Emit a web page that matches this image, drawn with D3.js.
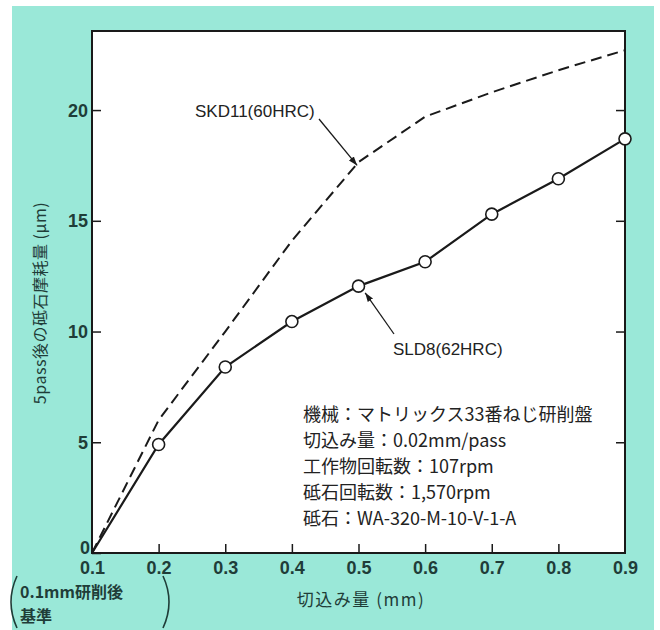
<!DOCTYPE html>
<html>
<head>
<meta charset="utf-8">
<script src="https://cdn.jsdelivr.net/npm/d3@7"></script>
<style>
  body { margin: 0; background: #fff; }
  svg { display: block; }
</style>
</head>
<body>
<div id="chart"></div>
<script>
// data
const depth = [0.1, 0.2, 0.3, 0.4, 0.5, 0.6, 0.7, 0.8, 0.9];
const sld8 = [0, 4.9, 8.4, 10.45, 12.05, 13.15, 15.3, 16.9, 18.7];
const skd11 = [0, 6.0, 10.0, 14.1, 17.65, 19.7, 20.8, 21.8, 22.7];
const yTicks = [0, 5, 10, 15, 20];
const xTicks = [0.1, 0.2, 0.3, 0.4, 0.5, 0.6, 0.7, 0.8, 0.9];
const notes = [
  "機械：マトリックス33番ねじ研削盤",
  "切込み量：0.02mm/pass",
  "工作物回転数：107rpm",
  "砥石回転数：1,570rpm",
  "砥石：WA-320-M-10-V-1-A"
];

const width = 660, height = 630;
const margin = { top: 31, right: 35, bottom: 77, left: 92 };
const jp = "'Noto Sans CJK JP', 'Noto Sans', sans-serif";
const num = "'Liberation Sans', Arial, sans-serif";
const labelColor = "#1f3d38";

const svg = d3.select('#chart').append('svg')
  .attr('width', width)
  .attr('height', height);

// teal backdrop
svg.append('rect')
  .attr('x', 12).attr('y', 6)
  .attr('width', 642).attr('height', 624)
  .attr('fill', '#9ae8d8');

const x = d3.scaleLinear().domain([0.1, 0.9]).range([margin.left, width - margin.right]);
const y = d3.scaleLinear().domain([0, 23.57]).range([height - margin.bottom, margin.top]);

// plot area
svg.append('rect')
  .attr('x', x(0.1)).attr('y', y(23.57))
  .attr('width', x(0.9) - x(0.1)).attr('height', y(0) - y(23.57))
  .attr('fill', '#fff')
  .attr('stroke', '#1a1a1a')
  .attr('stroke-width', 2);

// left axis
const yAxis = svg.append('g')
  .attr('transform', `translate(${x(0.1)},0)`)
  .call(d3.axisLeft(y).tickValues(yTicks).tickSize(-9).tickPadding(4));
yAxis.select('.domain').remove();
yAxis.selectAll('line').attr('stroke', '#1a1a1a').attr('stroke-width', 1.5);
yAxis.selectAll('text')
  .attr('font-family', num).attr('font-size', 18).attr('font-weight', 'bold')
  .attr('fill', labelColor).attr('dy', '0.33em');

// right axis ticks only
const yRight = svg.append('g')
  .attr('transform', `translate(${x(0.9)},0)`)
  .call(d3.axisRight(y).tickValues([5, 10, 15, 20]).tickSize(-9).tickFormat(''));
yRight.select('.domain').remove();
yRight.selectAll('line').attr('stroke', '#1a1a1a').attr('stroke-width', 1.5);

// bottom axis
const xAxis = svg.append('g')
  .attr('transform', `translate(0,${y(0)})`)
  .call(d3.axisBottom(x).tickValues(xTicks).tickSize(-9).tickPadding(6).tickFormat(d3.format('.1f')));
xAxis.select('.domain').remove();
xAxis.selectAll('line')
  .attr('stroke', '#1a1a1a').attr('stroke-width', 1.5)
  .attr('opacity', d => (d === 0.1 || d === 0.9) ? 0 : 1);
xAxis.selectAll('text')
  .attr('font-family', num).attr('font-size', 18).attr('font-weight', 'bold')
  .attr('fill', labelColor).attr('dy', '0.85em');
// the zero label sits in the corner
yAxis.selectAll('.tick').filter(d => d === 0).select('text').attr('dy', '0.05em').attr('x', -2);

// lines
const line = d3.line().x((d, i) => x(depth[i])).y(d => y(d));

svg.append('path')
  .datum(skd11)
  .attr('d', line)
  .attr('fill', 'none')
  .attr('stroke', '#1a1a1a')
  .attr('stroke-width', 2)
  .attr('stroke-dasharray', '11,6');

svg.append('path')
  .datum(sld8)
  .attr('d', line)
  .attr('fill', 'none')
  .attr('stroke', '#1a1a1a')
  .attr('stroke-width', 2.2);

svg.selectAll('.pt')
  .data(sld8.slice(1))
  .enter().append('circle')
  .attr('class', 'pt')
  .attr('cx', (d, i) => x(depth[i + 1]))
  .attr('cy', d => y(d))
  .attr('r', 6)
  .attr('fill', '#fff')
  .attr('stroke', '#1a1a1a')
  .attr('stroke-width', 1.6);

// annotation arrows
svg.append('defs').append('marker')
  .attr('id', 'arr')
  .attr('viewBox', '0 0 10 10')
  .attr('refX', 10).attr('refY', 5)
  .attr('markerWidth', 7).attr('markerHeight', 7)
  .attr('orient', 'auto')
  .append('path').attr('d', 'M0,1.5L10,5L0,8.5Z').attr('fill', '#1a1a1a');

function leader(x1, y1, xv, yv) {
  svg.append('line')
    .attr('x1', x1).attr('y1', y1)
    .attr('x2', x(xv)).attr('y2', y(yv))
    .attr('stroke', '#1a1a1a').attr('stroke-width', 1.3)
    .attr('marker-end', 'url(#arr)');
}
leader(319, 119, 0.5 - 0.002, 17.65 - 0.15);
leader(394, 334, 0.5 + 0.01, 12.05 - 0.3);

svg.append('text')
  .attr('x', 195).attr('y', 117)
  .attr('font-family', num).attr('font-size', 17)
  .attr('fill', '#222')
  .text('SKD11(60HRC)');

svg.append('text')
  .attr('x', 393).attr('y', 355)
  .attr('font-family', num).attr('font-size', 17)
  .attr('fill', '#222')
  .text('SLD8(62HRC)');

// condition notes
svg.append('g').selectAll('text')
  .data(notes)
  .enter().append('text')
  .attr('x', 303)
  .attr('y', (d, i) => 421 + i * 26)
  .attr('font-family', jp).attr('font-size', 18)
  .attr('fill', '#222')
  .text(d => d);

// axis titles
svg.append('text')
  .attr('x', 361).attr('y', 606)
  .attr('text-anchor', 'middle')
  .attr('font-family', jp).attr('font-size', 17)
  .attr('letter-spacing', 1.5)
  .attr('fill', labelColor)
  .text('切込み量 (mm)');

svg.append('text')
  .attr('transform', 'translate(46,303) rotate(-90)')
  .attr('text-anchor', 'middle')
  .attr('font-family', jp).attr('font-size', 16)
  .attr('letter-spacing', 0.5)
  .attr('fill', labelColor)
  .text('5pass後の砥石摩耗量 (μm)');

// reference note with big brackets
svg.append('text')
  .attr('x', 20).attr('y', 598)
  .attr('font-family', jp).attr('font-size', 16).attr('font-weight', 'bold')
  .attr('fill', labelColor)
  .text('0.1mm研削後');
svg.append('text')
  .attr('x', 20).attr('y', 622)
  .attr('font-family', jp).attr('font-size', 16).attr('font-weight', 'bold')
  .attr('fill', labelColor)
  .text('基準');
svg.append('path')
  .attr('d', 'M17,576 Q5,602 17,628')
  .attr('fill', 'none').attr('stroke', labelColor).attr('stroke-width', 1.6);
svg.append('path')
  .attr('d', 'M163,576 Q175,602 163,628')
  .attr('fill', 'none').attr('stroke', labelColor).attr('stroke-width', 1.6);
</script>
</body>
</html>
